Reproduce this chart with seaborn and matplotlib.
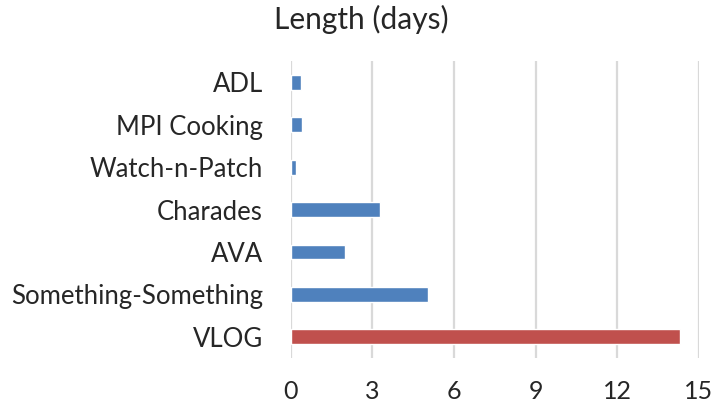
import pandas as pd
import matplotlib
matplotlib.use("Agg")
import matplotlib.pyplot as plt
import seaborn as sns

datasets = ["ADL", "MPI Cooking", "Watch-n-Patch", "Charades", "AVA",
            "Something-Something", "VLOG"]
length_days = [0.37, 0.41, 0.18, 3.3, 1.98, 5.03, 14.3]
bar_colors = ["#4F81BD"] * 6 + ["#C0504D"]
x_ticks = [0, 3, 6, 9, 12, 15]

df = pd.DataFrame({"dataset": datasets, "days": length_days})

sns.set_theme(style="white")
plt.rcParams["font.family"] = ["Lato", "DejaVu Sans"]

fig = plt.figure(figsize=(7.13, 4.05), dpi=100)
ax = fig.add_axes([0.4077, 0.116, 0.5723, 0.733])

sns.barplot(data=df, x="days", y="dataset", hue="dataset", palette=bar_colors,
            orient="h", width=0.35, legend=False, ax=ax, saturation=1)

ax.set_xlim(0, 15)
ax.set_ylim(6.5, -0.5)
ax.set_xticks(x_ticks)
ax.xaxis.grid(True, color="#D9D9D9", linewidth=1.6)
ax.set_axisbelow(True)
for s in ax.spines.values():
    s.set_visible(False)
ax.set_xlabel("")
ax.set_ylabel("")
ax.tick_params(axis="x", length=0, pad=16, labelsize=18)
ax.tick_params(axis="y", length=0, pad=20, labelsize=18.5)
fig.text(0.507, 0.952, "Length (days)", ha="center", va="center", fontsize=21.5)

fig.savefig("out.png", dpi=100)
